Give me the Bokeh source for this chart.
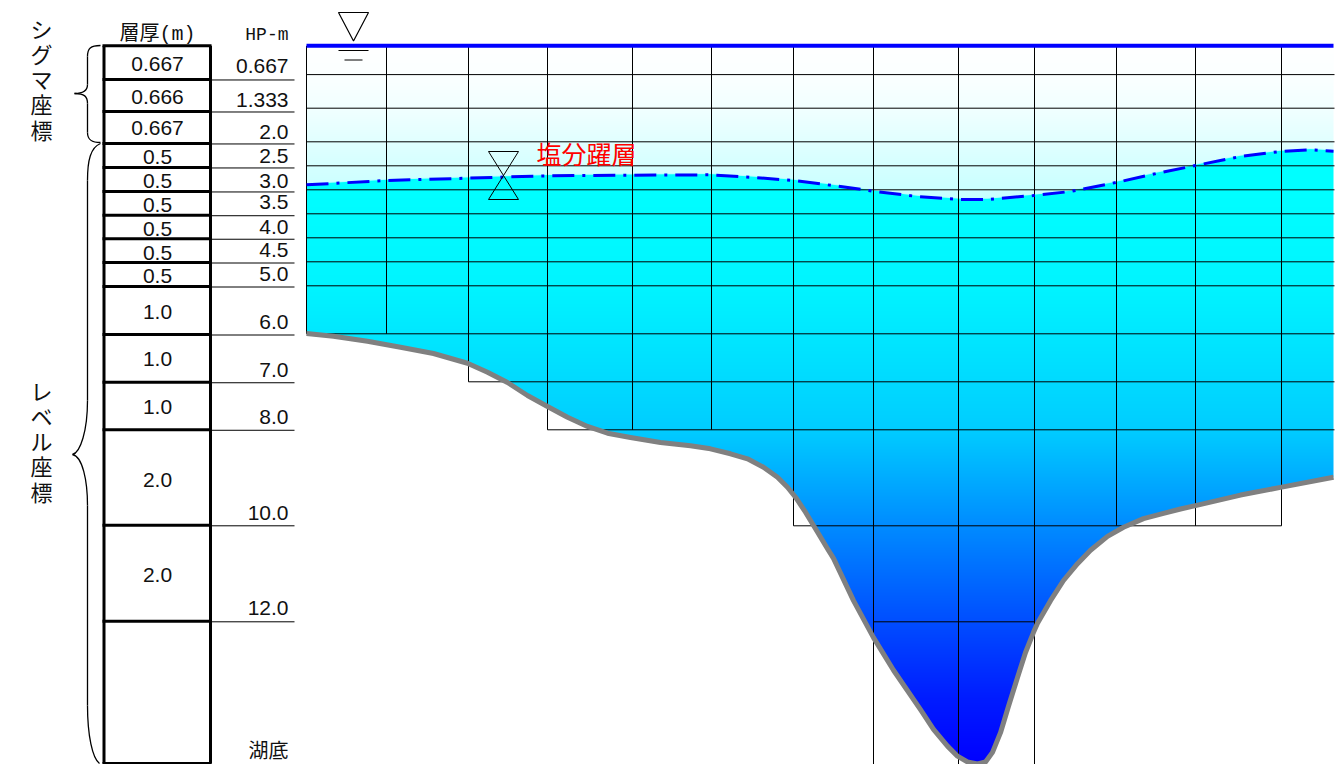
import numpy as np
from bokeh.plotting import figure
from bokeh.models import Range1d
from bokeh.core.properties import value
from bokeh.embed import file_html
from bokeh.resources import INLINE

# ---- data (distance along section, depth in metres) ----
bed_x = [306,333,367,400,433,467,487,507,527,547,567,587,607,630,660,690,710,730,747,763,777,787,795,805,815,827,833,853,873,893,920,933,947,957,967,977,985,992,1000,1008,1017,1025,1033,1037,1050,1063,1077,1090,1107,1123,1143,1163,1180,1195,1240,1280,1333]
bed_depth = [5.994,6.05,6.154,6.279,6.41,6.613,6.80,7.015,7.285,7.515,7.738,7.931,8.071,8.16,8.265,8.333,8.396,8.5,8.604,8.779,8.988,9.196,9.404,9.717,10.063,10.479,10.68,11.56,12.33,13.01,13.83,14.24,14.59,14.8,14.92,14.96,14.92,14.72,14.31,13.76,13.16,12.64,12.22,12.03,11.56,11.14,10.79,10.51,10.22,10.03,9.85,9.74,9.65,9.58,9.36,9.2,8.99]
cline_x = [306,387,467,547,633,710,750,793,840,873,917,960,987,1033,1070,1117,1157,1195,1240,1280,1310,1333]
cline_depth = [2.896,2.806,2.758,2.708,2.696,2.688,2.738,2.806,2.931,3.029,3.14,3.202,3.202,3.119,3.035,2.842,2.654,2.494,2.306,2.202,2.167,2.196]

thickness_labels = ["0.667","0.666","0.667","0.5","0.5","0.5","0.5","0.5","0.5","1.0","1.0","1.0","2.0","2.0"]
thickness_label_depth = [0.37,1.06,1.72,2.31,2.81,3.31,3.81,4.31,4.79,5.54,6.52,7.53,9.04,11.02]
hp_labels = ["0.667","1.333","2.0","2.5","3.0","3.5","4.0","4.5","5.0","6.0","7.0","8.0","10.0","12.0","湖底"]
hp_label_depth = [0.43,1.12,1.79,2.29,2.81,3.26,3.78,4.26,4.76,5.76,6.76,7.74,9.74,11.72,14.66]
column_depth = [0,0.702,1.369,2.035,2.535,3.035,3.53,4.02,4.515,5.015,6.015,7.01,8.0,9.99,11.99,14.95]

grid_x = [306,386,468,547,632,711,793,873,958,1034,1116,1195,1281]
grid_x_bottom = [6,6,7,8,8,8,10,14.973,14.973,14.973,10,10,10]
grid_y = [0.6,1.3,2.0,2.5,3.0,3.5,4.0,4.5,5.0,6.0,7.0,8.0,10.0,12.0]
grid_y_left = [306,306,306,306,306,306,306,306,306,306,468,547,793,873]
grid_y_right = [1334,1334,1334,1334,1334,1334,1334,1334,1334,1334,1334,1334,1281,1034]

# gradient stops
pale_depth = [0.0,0.6,1.3,2.0,2.5,3.3]
pale_red = [255,252,242,226,214,196]
deep_depth = [0,3.0,5.0,6.0,8.0,8.6,10.0,12.0,13.6,14.97]
deep_green = [255,255,245,232,205,186,140,78,28,0]

Y0, SCALE = 45.3, 48.0
TOP, BOT = (0-Y0)/SCALE, (764-Y0)/SCALE
def D(px):
    return (px-Y0)/SCALE

p = figure(width=1341, height=764, output_backend="svg", toolbar_location=None,
           x_range=Range1d(0,1341), y_range=Range1d(-BOT,-TOP),
           x_axis_location=None, y_axis_location=None, min_border=0,
           outline_line_color=None, background_fill_color="white", border_fill_color="white")
p.grid.visible = False

# water body as an RGBA picture, rows from bottom
xl, xr = 306, 1333
w, h = xr-xl, 719
xs = xl+np.arange(w)+0.5
ys_d = BOT-(np.arange(h)+0.5)*BOT/h
bed_i = np.interp(xs,bed_x,bed_depth)
cl_i = np.interp(xs,cline_x,cline_depth)
dd = ys_d[:,None]
t = np.clip((dd-cl_i[None,:])*SCALE+0.5,0,1)
a = np.clip((bed_i[None,:]-dd)*SCALE+0.5,0,1)
R_pale = np.interp(dd,pale_depth,pale_red)
G_deep = np.interp(dd,deep_depth,deep_green)
r = R_pale*(1-t)
g = 255*(1-t)+G_deep*t
b = 255*np.ones_like(r)
arr = np.zeros((h,w),dtype=np.uint32)
view = arr.view(dtype=np.uint8).reshape(h,w,4)
view[...,0]=r; view[...,1]=g; view[...,2]=b; view[...,3]=a*255
p.image_rgba(image=[arr],x=xl,y=-BOT,dw=w,dh=BOT)

# grid
p.segment(x0=grid_x,x1=grid_x,y0=[0]*len(grid_x),y1=[-d for d in grid_x_bottom],line_color="black",line_width=1)
p.segment(x0=grid_y_left,x1=grid_y_right,y0=[-d for d in grid_y],y1=[-d for d in grid_y],line_color="black",line_width=1)

# halocline, bed, surface
p.line(cline_x,[-d for d in cline_depth],line_color="#0000ff",line_width=3,line_dash="22 8 3 8")
p.line(bed_x,[-d for d in bed_depth],line_color="#808080",line_width=5,line_join="round")
p.line([306,1333],[0,0],line_color="#0000ff",line_width=4)

# thickness column
p.segment(x0=[211]*(len(column_depth)-2),x1=[294]*(len(column_depth)-2),
          y0=[-d-0.01 for d in column_depth[1:-1]],y1=[-d-0.01 for d in column_depth[1:-1]],line_color="black",line_width=1)
p.segment(x0=[102]*len(column_depth),x1=[211]*len(column_depth),
          y0=[-d for d in column_depth],y1=[-d for d in column_depth],line_color="black",line_width=3)
p.segment(x0=[103.5,210],x1=[103.5,210],y0=[0,0],y1=[-column_depth[-1]]*2,line_color="black",line_width=3)

# braces
p.bezier(x0=[100,87,87,74,87,87],y0=[-D(45),-D(56),-D(84),-D(93),-D(103),-D(132)],
         x1=[87,87,74,87,87,100],y1=[-D(56),-D(84),-D(93),-D(103),-D(132),-D(142)],
         cx0=[90,87,87,84,87,87],cy0=[-D(45),-D(66),-D(91),-D(93),-D(112),-D(140)],
         cx1=[87,87,82,87,87,92],cy1=[-D(48),-D(76),-D(93),-D(96),-D(124),-D(142)],
         line_color="black",line_width=1.3)
p.bezier(x0=[100,87,87,72,87,87],y0=[-D(143),-D(180),-D(400),-D(454),-D(505),-D(705)],
         x1=[87,87,72,87,87,99],y1=[-D(180),-D(400),-D(454),-D(505),-D(705),-D(763)],
         cx0=[90,87,87,82,87,87],cy0=[-D(147),-D(250),-D(430),-D(456),-D(570),-D(735)],
         cx1=[87,87,80,87,87,92],cy1=[-D(160),-D(330),-D(452),-D(480),-D(640),-D(758)],
         line_color="black",line_width=1.3)

# water-level marks
p.patch([338,368,353],[-D(12),-D(12),-D(40.5)],fill_color=None,line_color="black",line_width=1.2)
p.segment(x0=[338,344],x1=[368,362],y0=[-D(50),-D(59.5)],y1=[-D(50),-D(59.5)],line_color="black",line_width=1)
p.line([488,518,488,518,488],[-D(151),-D(151),-D(199),-D(199),-D(151)],line_color="black",line_width=1)

# text
SANS = value("Liberation Sans")
MIX = value("'Liberation Mono','Noto Sans CJK JP'")
CJK = value("Noto Sans CJK JP")
p.text(x=[157]*len(thickness_labels),y=[-d for d in thickness_label_depth],text=thickness_labels,
       text_font=SANS,text_font_size="21px",text_align="center",text_baseline="middle",text_color="#111111")
p.text(x=[288]*14,y=[-d for d in hp_label_depth[:14]],text=hp_labels[:14],
       text_font=SANS,text_font_size="21px",text_align="right",text_baseline="middle",text_color="#111111")
p.text(x=[288],y=[-hp_label_depth[14]],text=[hp_labels[14]],
       text_font=CJK,text_font_size="20px",text_align="right",text_baseline="middle",text_color="#111111")
p.text(x=[157],y=[-D(34)],text=["層厚(m)"],text_font=MIX,text_font_size="20px",
       text_align="center",text_baseline="middle",text_color="#111111")
p.text(x=[288],y=[-D(34)],text=["HP-m"],text_font=value("Liberation Mono"),text_font_size="18px",
       text_align="right",text_baseline="middle",text_color="#111111")
p.text(x=[536],y=[-D(152.5)],text=["塩分躍層"],text_font=CJK,text_font_size="25px",
       text_align="left",text_baseline="middle",text_color="#ff0000")
p.text(x=[41],y=[-D(11)],text=["シ\nグ\nマ\n座\n標"],text_font=CJK,text_font_size="22px",
       text_align="center",text_baseline="top",text_line_height=0.79,text_color="#111111")
p.text(x=[41],y=[-D(373)],text=["レ\nベ\nル\n座\n標"],text_font=CJK,text_font_size="22px",
       text_align="center",text_baseline="top",text_line_height=0.79,text_color="#111111")

open("out.html","w").write(file_html(p,INLINE))
